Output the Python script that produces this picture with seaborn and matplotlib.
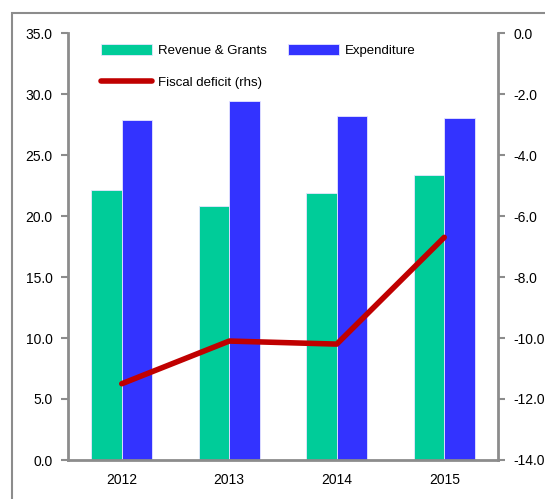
import matplotlib
matplotlib.use("Agg")
import matplotlib.pyplot as plt
from matplotlib.patches import Rectangle
from matplotlib.ticker import FormatStrFormatter, MultipleLocator, FixedLocator
import pandas as pd
import seaborn as sns

# Fiscal data, % of GDP
years = ["2012", "2013", "2014", "2015"]
revenue_grants = [22.1, 20.8, 21.9, 23.4]
expenditure = [27.9, 29.4, 28.2, 28.0]
fiscal_deficit = [-11.5, -10.1, -10.2, -6.7]

series_names = ["Revenue & Grants", "Expenditure"]
deficit_name = "Fiscal deficit (rhs)"

sns.set_style("white")
plt.rcParams["font.family"] = ["Liberation Sans", "DejaVu Sans"]
plt.rcParams["font.size"] = 10
plt.rcParams["text.color"] = "black"

GREEN = "#00CC99"
BLUE = "#3333FF"
RED = "#C00000"
GREY = "#8C8C8C"

bars = pd.DataFrame({
    "year": years * 2,
    "value": revenue_grants + expenditure,
    "series": [series_names[0]] * len(years) + [series_names[1]] * len(years),
})

fig = plt.figure(figsize=(5.45, 4.99), dpi=100)
ax = fig.add_axes([68 / 545, 1 - 460 / 499, 430 / 545, 427 / 499])

sns.barplot(data=bars, x="year", y="value", hue="series", order=years,
            hue_order=series_names, palette=[GREEN, BLUE], width=0.57,
            edgecolor="#E6E6FF", linewidth=0.6, saturation=1, ax=ax,
            legend=True)
bar_handles, bar_labels = ax.get_legend_handles_labels()
ax.get_legend().remove()

ax2 = ax.twinx()
sns.lineplot(x=list(range(len(years))), y=fiscal_deficit, ax=ax2, color=RED,
             lw=4, solid_capstyle="round", label=deficit_name, legend=False)

ax.set_xlim(-0.5, len(years) - 0.5)
ax.set_ylim(0, 35)
ax2.set_ylim(-14, 0)
ax.yaxis.set_major_locator(MultipleLocator(5))
ax2.yaxis.set_major_locator(MultipleLocator(2))
ax.yaxis.set_major_formatter(FormatStrFormatter("%.1f"))
ax2.yaxis.set_major_formatter(FormatStrFormatter("%.1f"))

ax.set_xlabel("")
ax.set_ylabel("")
ax2.set_ylabel("")

# category labels at centres, ticks at category boundaries
ax.xaxis.set_minor_locator(FixedLocator([i - 0.5 for i in range(len(years) + 1)]))
ax.tick_params(axis="x", which="major", length=0, pad=9, labelsize=10, labelcolor="black")
ax.tick_params(axis="x", which="minor", length=5, width=1.5, color=GREY, direction="out")
ax.tick_params(axis="y", length=5, width=1.5, color=GREY, direction="out", pad=6,
               labelsize=10, labelcolor="black")
ax2.tick_params(axis="y", length=5, width=1.5, color=GREY, direction="out", pad=6,
                labelsize=10, labelcolor="black")

for a in (ax, ax2):
    for s in a.spines.values():
        s.set_visible(False)
ax.spines["left"].set_visible(True)
ax.spines["bottom"].set_visible(True)
ax2.spines["right"].set_visible(True)
for s in (ax.spines["left"], ax.spines["bottom"], ax2.spines["right"]):
    s.set_color(GREY)
    s.set_linewidth(2)

line_handles, line_labels = ax2.get_legend_handles_labels()
handles = [bar_handles[0], line_handles[0], bar_handles[1]]
labels = [bar_labels[0], line_labels[0], bar_labels[1]]
leg = ax2.legend(handles, labels, ncol=2, frameon=False, loc="upper left",
                 bbox_to_anchor=(0.048, 1.003), handlelength=3.9, handleheight=0.9,
                 handletextpad=0.45, columnspacing=1.6, labelspacing=1.45,
                 fontsize=9.5)
for t in leg.get_texts():
    t.set_color("black")

# outer border around the chart
fig.patches.append(Rectangle((12 / 545, -0.1), 1.2, 1.1 - 13 / 499,
                             transform=fig.transFigure, fill=False,
                             edgecolor=GREY, linewidth=1.5))

fig.savefig("out.png", dpi=100)
